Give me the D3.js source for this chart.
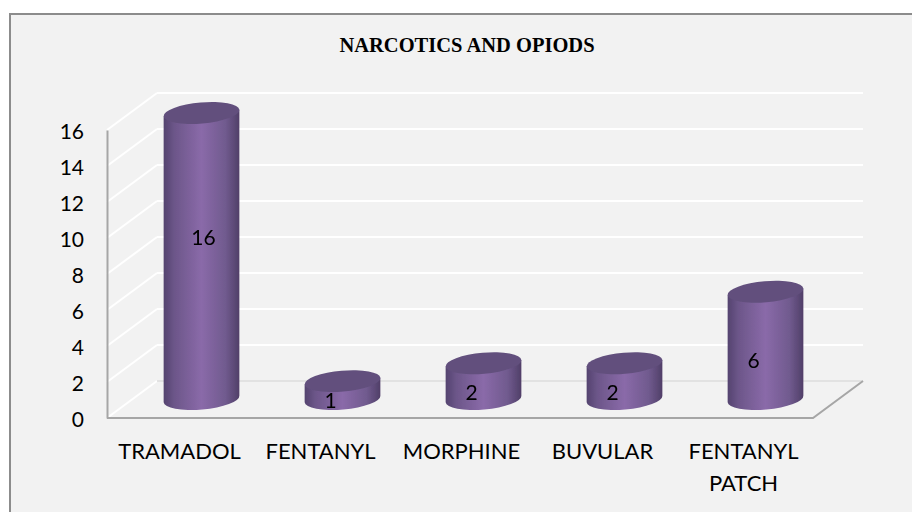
<!DOCTYPE html>
<html>
<head>
<meta charset="utf-8">
<script src="https://cdn.jsdelivr.net/npm/d3@7/dist/d3.min.js"></script>
<style>
  html, body { margin: 0; padding: 0; background: #fff; }
  svg { display: block; }
</style>
</head>
<body>
<svg id="chart" width="912" height="512"></svg>
<script>
const categories = ['TRAMADOL', 'FENTANYL', 'MORPHINE', 'BUVULAR', 'FENTANYL PATCH'];
const values = [16, 1, 2, 2, 6];
const yTicks = [0, 2, 4, 6, 8, 10, 12, 14, 16];
const title = 'NARCOTICS AND OPIODS';

// the 3d look: back wall sits up and right of the front axis
const depthX = 50;
const depthY = 37;
const frontTop = 130;
const frontBottom = 418;
const plotLeft = 107;
const plotRight = 813;

const svg = d3.select('#chart');

const x = d3.scaleBand().domain(categories).range([plotLeft + 2, plotRight + 1]);
const y = d3.scaleLinear().domain([0, 16]).range([frontBottom, frontTop]);
// cylinders stand on the floor, so their centres run on their own scale
const barY = d3.scaleLinear().domain([0, 16]).range([399, 113]);

const defs = svg.append('defs');
const grad = defs.append('linearGradient').attr('id', 'cyl').attr('x1', 0).attr('x2', 1).attr('y1', 0).attr('y2', 0);
[[0, '#54436f'], [0.14, '#6c5689'], [0.5, '#8a6aa9'], [0.82, '#705a8e'], [1, '#503f68']].forEach(function (s) {
  grad.append('stop').attr('offset', s[0]).attr('stop-color', s[1]);
});
defs.append('filter').attr('id', 'soft').append('feGaussianBlur').attr('stdDeviation', 0.6);

// frame runs off the right and bottom edges of the picture
svg.append('rect')
  .attr('x', 10).attr('y', 14).attr('width', 920).attr('height', 520)
  .attr('fill', '#f2f2f2').attr('stroke', '#8c8c8c').attr('stroke-width', 2);

svg.append('text')
  .attr('x', 467).attr('y', 52)
  .attr('text-anchor', 'middle')
  .attr('font-family', '"Liberation Serif", serif')
  .attr('font-weight', 'bold')
  .attr('font-size', 20.5)
  .attr('fill', '#000')
  .text(title);

// wall gridlines and the side-wall diagonals
const grid = svg.append('g').attr('fill', 'none').attr('stroke-width', 2).attr('stroke', '#fff').attr('filter', 'url(#soft)');
yTicks.forEach(function (t) {
  grid.append('line')
    .attr('x1', plotLeft).attr('y1', y(t))
    .attr('x2', plotLeft + depthX).attr('y2', y(t) - depthY);
  if (t > 0) {
    grid.append('line')
      .attr('x1', plotLeft + depthX).attr('y1', y(t) - depthY)
      .attr('x2', plotRight + depthX).attr('y2', y(t) - depthY);
  }
});
grid.append('line')
  .attr('x1', plotLeft + depthX).attr('y1', y(0) - depthY)
  .attr('x2', plotRight + depthX).attr('y2', y(0) - depthY)
  .attr('stroke', '#dcdcdc').attr('stroke-width', 1.5);

// floor edge
svg.append('path')
  .attr('d', d3.line()([[plotLeft, y(0)], [plotRight, y(0)], [plotRight + depthX, y(0) - depthY]]))
  .attr('fill', 'none').attr('stroke', '#a6a6a6').attr('stroke-width', 2);

const yAxis = svg.append('g')
  .attr('transform', 'translate(' + plotLeft + ',0)')
  .call(d3.axisLeft(y).tickValues(yTicks).tickSize(0).tickPadding(23));
yAxis.select('.domain').attr('stroke', '#a6a6a6').attr('stroke-width', 2);
yAxis.selectAll('text')
  .attr('font-family', 'Lato, sans-serif').attr('font-size', 21).attr('fill', '#000')
  .attr('dy', '0.4em');

const xAxis = svg.append('g')
  .attr('transform', 'translate(0,' + y(0) + ')')
  .call(d3.axisBottom(x).tickSize(0).tickPadding(0));
xAxis.select('.domain').remove();
xAxis.selectAll('text').each(function (d) {
  const words = d === 'FENTANYL PATCH' ? d.split(' ') : [d];
  const t = d3.select(this)
    .attr('font-family', 'Lato, sans-serif').attr('font-size', 22).attr('fill', '#000')
    .attr('y', 0).attr('dy', null).text(null);
  words.forEach(function (w, i) {
    t.append('tspan').attr('x', 0).attr('y', 41 + i * 32).text(w);
  });
});

// cylinders
const barCx = function (d) { return x(d.name) + x.bandwidth() / 2 + 22; };
const rx = 38;
const ry = 10.5;
const tilt = -5;
const dx = rx * Math.cos(tilt * Math.PI / 180);
const dy = rx * Math.sin(tilt * Math.PI / 180);

const rows = categories.map(function (name, i) { return { name: name, value: values[i] }; });

const bars = svg.append('g').attr('filter', 'url(#soft)')
  .selectAll('g').data(rows).join('g');

bars.append('path')
  .attr('fill', 'url(#cyl)')
  .attr('d', function (d) {
    const c = barCx(d);
    const t = barY(d.value);
    const b = barY(0);
    return 'M' + (c - dx) + ',' + (t - dy) +
      'L' + (c - dx) + ',' + (b - dy) +
      'A' + rx + ',' + ry + ' ' + tilt + ' 0 0 ' + (c + dx) + ',' + (b + dy) +
      'L' + (c + dx) + ',' + (t + dy) + 'Z';
  });

bars.append('ellipse')
  .attr('rx', rx).attr('ry', ry)
  .attr('fill', '#62507d')
  .attr('transform', function (d) {
    return 'translate(' + barCx(d) + ',' + barY(d.value) + ') rotate(' + tilt + ')';
  });

// value labels are placed by eye relative to each cylinder's middle
const labelNudgeX = [2, -12, -12, -12, -12];
const labelNudgeY = [-18, 11, 12, 12, 15];
svg.append('g').selectAll('text').data(rows).join('text')
  .attr('x', function (d, i) { return barCx(d) + labelNudgeX[i]; })
  .attr('y', function (d, i) { return barY(d.value / 2) + labelNudgeY[i]; })
  .attr('dy', '0.35em')
  .attr('text-anchor', 'middle')
  .attr('font-family', 'Lato, sans-serif')
  .attr('font-size', 21)
  .attr('fill', '#000')
  .text(function (d) { return d.value; });
</script>
</body>
</html>
